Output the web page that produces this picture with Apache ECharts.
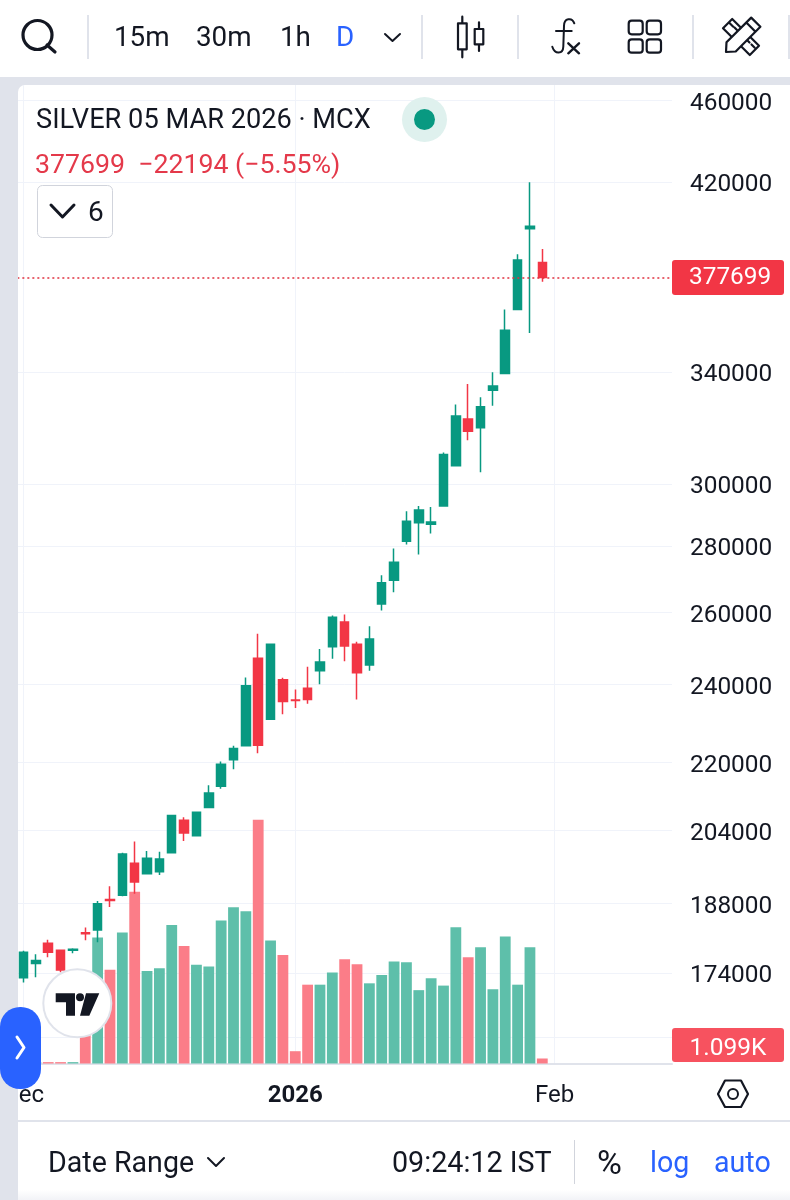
<!DOCTYPE html>
<html>
<head>
<meta charset="utf-8">
<title>SILVER 05 MAR 2026 · MCX</title>
<script src="https://cdn.jsdelivr.net/npm/echarts@6/dist/echarts.min.js"></script>
<style>
  html, body { margin: 0; padding: 0; background: #fff; }
  #chart { width: 790px; height: 1200px; }
</style>
</head>
<body>
<div id="chart"></div>
<script>
// Daily session values, oldest first
const opens = [173100, 175900, 179900, 178500, 178500, 182000, 182600, 188900, 189800, 196700, 194400, 194800, 199000, 206300, 202800, 209300, 214300, 220700, 224200, 247100, 230900, 241300, 235900, 239000, 243700, 250300, 257300, 251000, 245300, 262500, 269600, 281500, 287400, 286900, 292800, 306200, 322600, 319500, 333100, 339400, 364500, 398800, 384000];
const closes = [178100, 176500, 178100, 174600, 178700, 181800, 188000, 188700, 198700, 192600, 197800, 197600, 207400, 203400, 208200, 212700, 219600, 223500, 239700, 224300, 251000, 235500, 235800, 236000, 246100, 258700, 250500, 243200, 252500, 268800, 275000, 287900, 291500, 287600, 310100, 323700, 318200, 327000, 334700, 356100, 385100, 399893, 377699];
const lows = [172200, 173200, 177100, 174200, 177900, 180500, 180100, 187300, 189600, 190100, 194400, 194100, 199000, 201600, 202600, 209300, 213700, 218400, 224200, 222300, 230900, 232200, 233800, 234900, 240100, 247000, 246300, 236000, 243700, 260600, 266000, 280500, 277400, 284000, 292800, 306200, 315100, 304000, 327400, 339400, 364500, 355000, 375900];
const highs = [178400, 177700, 180600, 178500, 178900, 183100, 188600, 191700, 199000, 201500, 199400, 199200, 207600, 207000, 208300, 214500, 220300, 224200, 241900, 254000, 251200, 241800, 238700, 244800, 249700, 259200, 259500, 251700, 256100, 271100, 279300, 291100, 292800, 292500, 310800, 327900, 335400, 330500, 339900, 364500, 387600, 420000, 389900];
const volumes = [330, 330, 300, 300, 300, 17600, 27650, 20600, 28750, 37700, 20300, 20900, 30400, 25800, 21700, 21300, 31400, 34300, 33400, 53500, 27000, 23800, 2700, 17300, 17300, 20000, 22900, 21800, 17600, 19400, 22400, 22200, 16100, 18700, 17100, 29900, 23300, 25500, 16300, 27900, 17300, 25500, 1099];

// Time axis: room is left on the right of the last session
const slotCount = 53;
const timeTickSlots = [0, 22, 43];
const timeTickLabels = ['Dec', '2026', 'Feb'];

// Price scale
const priceTicks = [174000, 188000, 204000, 220000, 240000, 260000, 280000, 300000, 340000, 420000, 460000];
const priceGridLines = [162000, 174000, 188000, 204000, 220000, 240000, 260000, 280000, 300000, 340000, 420000, 460000];
const priceMin = 157350;
const priceMax = 468540;
const volumeMax = 215000;
const lastPrice = 377699;

const UP = '#089981', DOWN = '#f23645';
const UP_VOL = '#5ebfaa', DOWN_VOL = '#fb7d88';
const INK = '#131722', BLUE = '#2962ff', RULE = '#e0e3eb', GRID = '#f0f3fa';
const FONT = 'Roboto';

const categories = Array.from({ length: slotCount }, (_, i) => {
  const at = timeTickSlots.indexOf(i);
  return at >= 0 ? timeTickLabels[at] : '';
});

// Graphic element that draws an SVG path string, used for the toolbar icons
echarts.graphic.registerShape('iconPath', echarts.graphic.extendShape({
  type: 'iconPath',
  shape: { d: '' },
  buildPath(ctx, shape) {
    const p = echarts.graphic.makePath(shape.d, {});
    p.buildPath(ctx, p.shape);
  }
}));

function label(text, x, y, size, color, extra) {
  return {
    type: 'text', z: 100, silent: true,
    style: Object.assign({
      text, x, y, fill: color, font: size + 'px ' + FONT,
      textVerticalAlign: 'middle', verticalAlign: 'middle'
    }, extra || {})
  };
}
function stroke(d, color, width, fill) {
  return {
    type: 'iconPath', z: 100, silent: true,
    shape: { d },
    style: { stroke: color, lineWidth: width, fill: fill || 'none', lineCap: 'round', lineJoin: 'round' }
  };
}
function box(x, y, width, height, fill, r, z, extra) {
  return {
    type: 'rect', z: z === undefined ? 100 : z, silent: true,
    shape: { x, y, width, height, r: r || 0 },
    style: Object.assign({ fill }, extra || {})
  };
}

// Window furniture around the plot
const furniture = [
  box(18, 85, 772, 1115, '#ffffff', [7, 0, 0, 0], -1),
  box(18, 1190, 772, 10, '#ffffff', 0, 100, {
    fill: { type: 'linear', x: 0, y: 0, x2: 0, y2: 1, colorStops: [{ offset: 0, color: '#ffffff' }, { offset: 1, color: '#f2f3f7' }] }
  }),
  box(0, 0, 790, 77, '#ffffff'),
  box(0, 77, 790, 8, RULE),
  box(0, 85, 18, 1115, RULE),

  // Toolbar
  stroke('M47 45 L55 52 M52 35 A14.5 14.5 0 1 1 23 35 A14.5 14.5 0 1 1 52 35 Z', INK, 3.2),
  box(87, 15, 2, 44, RULE),
  label('15m', 114, 39.5, 27.8, INK),
  label('30m', 196, 39.5, 27.8, INK),
  label('1h', 280, 39.5, 27.8, INK),
  label('D', 336, 39.5, 27.8, BLUE),
  stroke('M385 34 L392.5 41 L400 34', INK, 2),
  box(421, 15, 2, 44, RULE),
  stroke('M462.3 16.7 L462.3 23.3 M462.3 49.3 L462.3 57.3 M458 23.3 L466.7 23.3 L466.7 49.3 L458 49.3 Z M479 22.3 L479 29 M479 44.3 L479 51 M474.7 29 L483.3 29 L483.3 44.3 L474.7 44.3 Z', INK, 2.2),
  box(517, 15, 2, 44, RULE),
  stroke('M574.3 23.3 C572 17 564 18 564 26 L563.3 46.7 C563 54 555 55 552.3 46.7 M556 31 L571.7 31', INK, 2),
  stroke('M568.3 43.3 L579 53.3 M579 43.3 L568.3 53.3', INK, 2.4),
  box(628.7, 20.7, 14, 13.6, 'none', 3, 100, { stroke: INK, lineWidth: 2.2 }),
  box(646.7, 20.7, 14.3, 13.6, 'none', 3, 100, { stroke: INK, lineWidth: 2.2 }),
  box(628.7, 39.3, 14, 13.4, 'none', 3, 100, { stroke: INK, lineWidth: 2.2 }),
  box(646.7, 39.3, 14.3, 13.4, 'none', 3, 100, { stroke: INK, lineWidth: 2.2 }),
  box(692, 15, 2, 44, RULE),
  stroke('M732.2 19 L723 28.2 L749.8 55 L759 45.8 Z M729 22.5 L733 26.5 M734.5 27.5 L737 30 M747 40 L749.5 42.5 M751.5 44.5 L754.5 47.5', INK, 2.2),
  stroke('M726 52 L726.5 42.3 L751.2 17.6 L760.4 26.8 L735.7 51.5 Z M746.3 22.5 L755.5 31.7', INK, 2.2, '#ffffff'),
  box(788, 15, 2, 44, RULE),

  // Symbol header
  label('SILVER 05 MAR 2026 · MCX', 36, 121.5, 27.2, INK),
  { type: 'circle', z: 100, silent: true, shape: { cx: 424.5, cy: 119.5, r: 22.5 }, style: { fill: '#dff1ee' } },
  { type: 'circle', z: 100, silent: true, shape: { cx: 424.5, cy: 119.5, r: 10.5 }, style: { fill: UP } },
  label('377699  −22194 (−5.55%)', 35, 166, 26.7, '#e4394a'),
  box(37.5, 185.5, 75, 52, '#ffffff', 5, 100, { stroke: '#d1d4dc', lineWidth: 1 }),
  stroke('M51 205 L62.5 217 L74 205', INK, 3),
  label('6', 88, 214, 28, INK),

  // Last-volume tag, held on the pane floor
  box(672, 1028, 112, 34, '#f7525f', 3),
  label('1.099K', 728, 1049, 24.5, '#ffffff', { align: 'center' }),

  // Watermark badge
  { type: 'circle', z: 100, silent: true, shape: { cx: 77.3, cy: 1003.3, r: 34 }, style: { fill: '#ffffff', stroke: RULE, lineWidth: 2 } },
  { type: 'iconPath', z: 101, silent: true, shape: { d: 'M55.7 993.3 L75 993.3 L75 1015.7 L66 1015.7 L66 1002.3 L55.7 1002.3 Z M86 993.3 L99.3 993.3 L89.3 1015.7 L80 1015.7 Z' }, style: { fill: '#131722' } },
  { type: 'circle', z: 101, silent: true, shape: { cx: 80, cy: 997.3, r: 4 }, style: { fill: '#131722' } },

  // Side handle
  box(0, 1007, 41, 82, BLUE, 20),
  stroke('M17 1037 L24 1047.5 L17 1058', '#ffffff', 3),

  // Time axis settings cog and bottom bar
  stroke('M718 1094 L725 1080.5 L741 1080.5 L748 1094 L741 1107 L725 1107 Z', INK, 2.2),
  { type: 'circle', z: 100, silent: true, shape: { cx: 733, cy: 1094, r: 5 }, style: { fill: 'none', stroke: INK, lineWidth: 2 } },
  box(18, 1120, 772, 2, RULE),
  label('Date Range', 48, 1165, 28.6, INK),
  stroke('M208 1158 L216 1166 L224 1158', INK, 2),
  label('09:24:12 IST', 392, 1165, 28.7, INK),
  box(574, 1140, 1, 44, '#d1d4dc'),
  label('%', 597, 1165, 34, INK),
  label('log', 650, 1165, 28.6, BLUE),
  label('auto', 714, 1165, 28.6, BLUE)
];

const chart = echarts.init(document.getElementById('chart'), null, { renderer: 'canvas' });

chart.setOption({
  animation: false,
  backgroundColor: RULE,
  textStyle: { fontFamily: FONT },
  grid: { left: 16.8, right: 118, top: 84, bottom: 136.5, containLabel: false },
  xAxis: {
    type: 'category',
    data: categories,
    boundaryGap: true,
    axisLine: { show: true, lineStyle: { color: RULE, width: 2 } },
    axisTick: { show: false, alignWithLabel: true },
    axisLabel: {
      show: true,
      interval: 0,
      margin: 20,
      fontSize: 24,
      color: INK,
      hideOverlap: false,
      formatter: v => (v === '2026' ? '{b|2026}' : v),
      rich: { b: { fontSize: 24, fontWeight: 'bold', color: INK, fontFamily: FONT } }
    },
    splitLine: {
      show: true,
      alignWithLabel: true,
      interval: i => timeTickSlots.indexOf(i) >= 0,
      lineStyle: { color: GRID, width: 1 }
    }
  },
  yAxis: [
    {
      type: 'log',
      logBase: 10,
      position: 'right',
      min: priceMin,
      max: priceMax,
      axisLine: { show: false },
      axisTick: { show: false, customValues: priceGridLines },
      axisLabel: {
        customValues: priceTicks,
        margin: 18,
        formatter: v => '{p|' + Math.round(v) + '}',
        rich: { p: { fontSize: 24.4, color: INK, fontFamily: FONT, padding: [6, 0, 0, 0] } }
      },
      splitLine: { show: true, lineStyle: { color: GRID, width: 1 } }
    },
    { type: 'value', min: 0, max: volumeMax, show: false, splitLine: { show: false } }
  ],
  series: [
    {
      name: 'Volume',
      type: 'bar',
      yAxisIndex: 1,
      barWidth: 10.8,
      z: 1,
      silent: true,
      data: volumes.map((v, i) => ({
        value: v,
        itemStyle: { color: closes[i] >= opens[i] ? UP_VOL : DOWN_VOL }
      }))
    },
    {
      name: 'SILVER',
      type: 'candlestick',
      yAxisIndex: 0,
      barWidth: 9,
      z: 3,
      silent: true,
      itemStyle: {
        color: UP, color0: DOWN,
        borderColor: UP, borderColor0: DOWN,
        borderWidth: 1.5
      },
      data: opens.map((o, i) => [o, closes[i], lows[i], highs[i]]),
      markLine: {
        silent: true,
        symbol: ['none', 'none'],
        precision: 0,
        lineStyle: { color: '#e0303f', type: [2, 3], width: 1.5 },
        label: {
          show: true,
          position: 'end',
          distance: 0,
          formatter: String(lastPrice),
          color: '#ffffff',
          fontSize: 24.4,
          fontFamily: FONT,
          backgroundColor: DOWN,
          width: 95,
          height: 29,
          lineHeight: 29,
          align: 'left',
          padding: [6, 0, 0, 17],
          borderRadius: 3
        },
        data: [{ yAxis: lastPrice }]
      }
    }
  ],
  graphic: furniture
});
</script>
</body>
</html>
